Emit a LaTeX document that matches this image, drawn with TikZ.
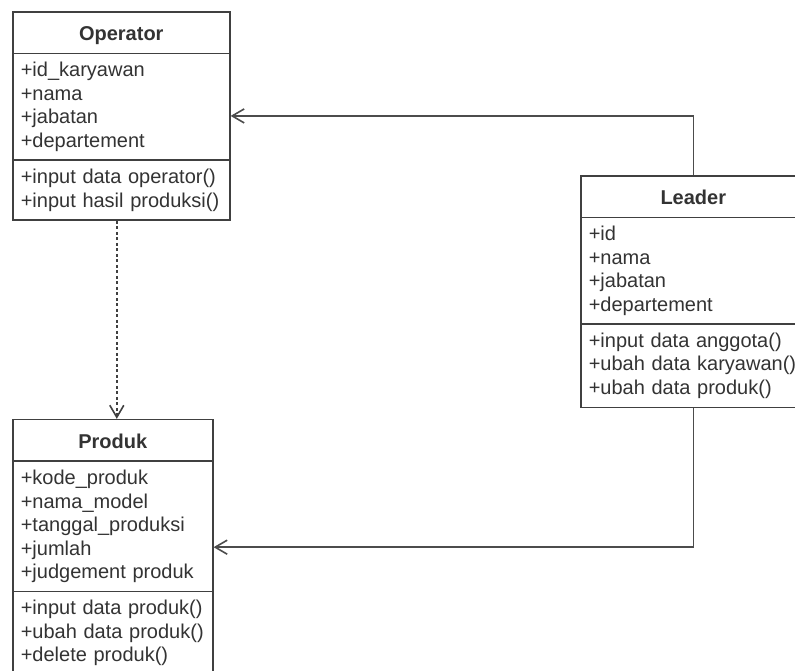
\documentclass[tikz,border=0pt]{standalone}
\usepackage{fontspec}
\setmainfont{Liberation Sans}
\usetikzlibrary{positioning,arrows.meta,shapes.multipart}

\begin{document}
\begin{tikzpicture}[
  x=1pt, y=-1pt,
  >={Straight Barb[length=12pt,width=14pt]},
  cls/.style={draw=black!75, line width=1.6pt, rectangle split, rectangle split parts=3, align=left, inner xsep=8pt, inner ysep=8pt, font=\fontsize{20}{23.5}\selectfont, text=black!80, fill=white},
  assoc/.style={->, draw=black!70, line width=1.6pt},
  depend/.style={->, draw=black!75, line width=1.6pt, dash pattern=on 3pt off 2.5pt}
]
  \useasboundingbox (0,0) rectangle (795,670);
  \node[cls, text width=201pt, anchor=north west] (operator) at (12,11)
    {\rule[-4pt]{0pt}{24pt}\hfill\textbf{Operator}\hfill\null
     \nodepart{two}+id\_karyawan\\ +nama\\ +jabatan\\ +departement
     \nodepart{three}+input data operator()\\ +input hasil produksi()};
  \node[cls, text width=184pt, below=198pt of operator.south west, anchor=north west] (produk)
    {\rule[-4pt]{0pt}{24pt}\hfill\textbf{Produk}\hfill\null
     \nodepart{two}+kode\_produk\\ +nama\_model\\ +tanggal\_produksi\\ +jumlah\\ +judgement produk
     \nodepart{three}+input data produk()\\ +ubah data produk()\\ +delete produk()};
  \node[cls, text width=209pt, anchor=north west] (leader) at (580,175)
    {\rule[-4pt]{0pt}{24pt}\hfill\textbf{Leader}\hfill\null
     \nodepart{two}+id\\ +nama\\ +jabatan\\ +departement
     \nodepart{three}+input data anggota()\\ +ubah data karyawan()\\ +ubah data produk()};
  \draw[assoc] (leader.north) |- (operator.east);
  \draw[assoc] (leader.south) |- (produk.east);
  \draw[depend] ([xshift=-4.5pt]operator.south) -- ([xshift=4pt]produk.north);
\end{tikzpicture}
\end{document}
